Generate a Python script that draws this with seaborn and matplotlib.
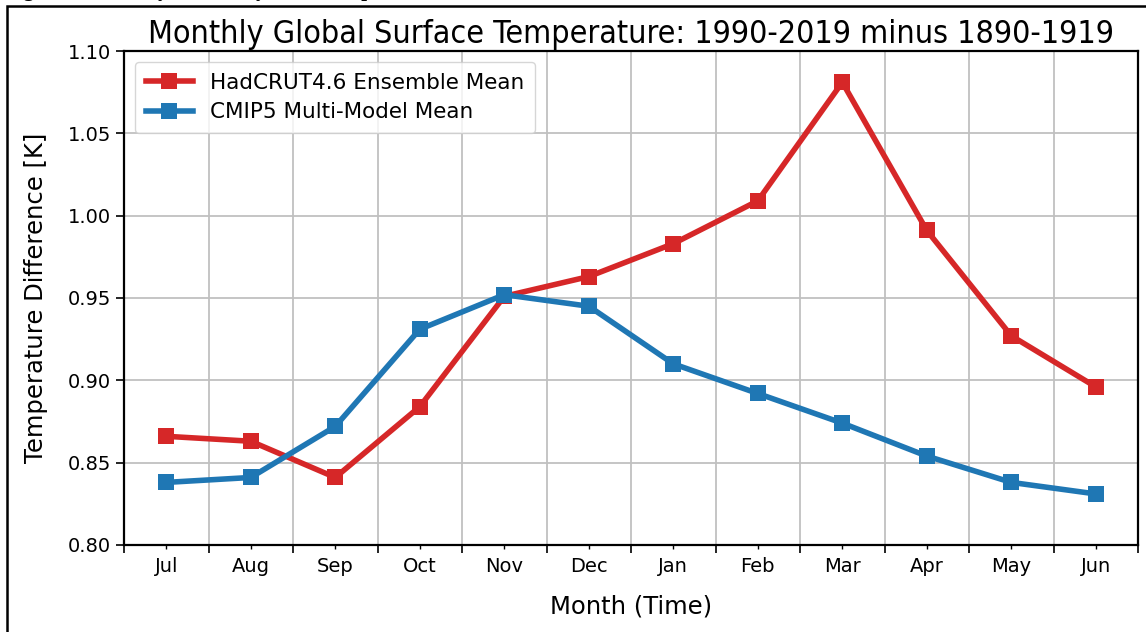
import numpy as np
import pandas as pd
import matplotlib
matplotlib.use("Agg")
import matplotlib.pyplot as plt
import seaborn as sns
from matplotlib.patches import Rectangle

# data
months = ["Jul", "Aug", "Sep", "Oct", "Nov", "Dec", "Jan", "Feb", "Mar", "Apr", "May", "Jun"]
hadcrut = [0.866, 0.863, 0.841, 0.884, 0.951, 0.963, 0.983, 1.009, 1.081, 0.991, 0.927, 0.896]
cmip5 = [0.838, 0.841, 0.872, 0.931, 0.952, 0.945, 0.910, 0.892, 0.874, 0.854, 0.838, 0.831]
series_names = ["HadCRUT4.6 Ensemble Mean", "CMIP5 Multi-Model Mean"]
series_colors = ["#d62728", "#1f77b4"]

pos = np.arange(len(months))
df = pd.DataFrame({
    "pos": np.concatenate([pos, pos]),
    "temp": hadcrut + cmip5,
    "series": [series_names[0]] * len(months) + [series_names[1]] * len(months),
})

fig = plt.figure(figsize=(11.46, 6.32), dpi=100)
ax = fig.add_axes([0.1082, 0.1377, 0.9931 - 0.1082, 0.9193 - 0.1377])

sns.lineplot(data=df, x="pos", y="temp", hue="series", style="series",
             palette=series_colors, markers=["s", "s"], dashes=False,
             linewidth=4, markersize=11, markeredgewidth=0, sort=False, ax=ax)

ax.set_xlim(-0.5, len(months) - 0.5)
ax.set_ylim(0.80, 1.10)
yt = np.arange(0.80, 1.101, 0.05)
ax.set_yticks(yt)
ax.set_yticklabels([f"{v:.2f}" for v in yt])

# major ticks between the months (with grid), labels on minor ticks
ax.set_xticks(np.arange(-0.5, len(months), 1.0))
ax.set_xticklabels([])
ax.set_xticks(pos, minor=True)
ax.set_xticklabels(months, minor=True)
ax.tick_params(axis="x", which="major", length=6, width=1.2)
ax.tick_params(axis="x", which="minor", length=3, width=1, labelsize=14, pad=6)
ax.tick_params(axis="y", length=6, width=1.2, labelsize=14)
ax.grid(True, which="major", color="#c0c0c0", linewidth=1.3)
ax.set_axisbelow(True)
for s in ax.spines.values():
    s.set_linewidth(1.6)

ax.set_xlabel("Month (Time)", fontsize=17.5, labelpad=13)
ax.set_ylabel("Temperature Difference [K]", fontsize=17.5, labelpad=14)
ax.set_title("Monthly Global Surface Temperature: 1990-2019 minus 1890-1919",
             fontsize=23, fontstretch="condensed", pad=6)

handles, labels = ax.get_legend_handles_labels()
ax.legend(handles, labels, loc="upper left", fontsize=15.5, framealpha=0.8,
          handlelength=2.2, borderpad=0.5, labelspacing=0.45)

# outer frame and the cropped caption above it
fig.patches.append(Rectangle((6.5 / 1146, -0.05), 1.2, 1.05 - 5.5 / 632,
                             transform=fig.transFigure, fill=False,
                             edgecolor="black", linewidth=1.8))
fig.text(5 / 1146, 1 + 4 / 632, "Figure 3: Monthly variability of the temperature difference",
         fontsize=15, fontweight="bold", family="Liberation Serif", va="baseline")

fig.savefig("out.png", dpi=100)
